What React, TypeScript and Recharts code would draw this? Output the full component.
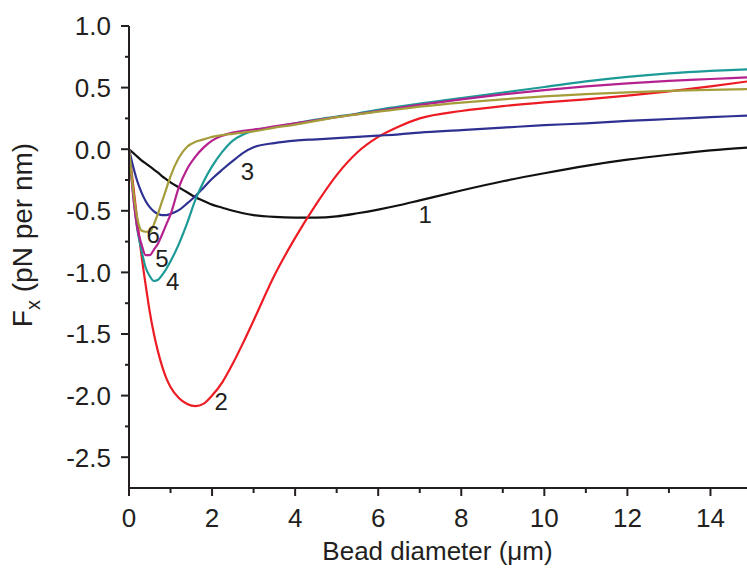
import React from "react";
import { LineChart, Line, XAxis, YAxis, ReferenceDot } from "recharts";

// bead diameter (µm)
const xs = [0, 0.1, 0.2, 0.3, 0.4, 0.5, 0.6, 0.7, 0.8, 0.9, 1.0, 1.2, 1.4, 1.6, 1.8, 2.0, 2.25, 2.5, 2.75, 3, 3.5, 4, 4.5, 5, 5.5, 6, 6.5, 7, 8, 9, 10, 11, 12, 13, 14, 15];

// F_x (pN per nm) for curves 1..6
const curve1 = [0, -0.03, -0.06, -0.09, -0.115, -0.14, -0.165, -0.19, -0.22, -0.245, -0.27, -0.31, -0.35, -0.39, -0.42, -0.45, -0.475, -0.5, -0.52, -0.535, -0.55, -0.555, -0.555, -0.545, -0.52, -0.49, -0.455, -0.415, -0.335, -0.26, -0.195, -0.135, -0.085, -0.045, -0.01, 0.015];
const curve2 = [0, -0.29, -0.58, -0.86, -1.1, -1.32, -1.5, -1.645, -1.765, -1.86, -1.93, -2.02, -2.068, -2.085, -2.065, -2.0, -1.89, -1.74, -1.57, -1.39, -1.025, -0.72, -0.45, -0.21, -0.025, 0.1, 0.185, 0.25, 0.31, 0.35, 0.38, 0.405, 0.435, 0.47, 0.51, 0.555];
const curve3 = [0, -0.14, -0.26, -0.35, -0.42, -0.47, -0.505, -0.525, -0.535, -0.535, -0.525, -0.495, -0.44, -0.38, -0.31, -0.24, -0.165, -0.095, -0.03, 0.015, 0.05, 0.07, 0.08, 0.09, 0.1, 0.11, 0.12, 0.135, 0.155, 0.175, 0.195, 0.21, 0.23, 0.245, 0.26, 0.275];
const curve4 = [0, -0.36, -0.65, -0.82, -0.96, -1.03, -1.07, -1.06, -1.02, -0.97, -0.91, -0.77, -0.6, -0.41, -0.26, -0.14, -0.02, 0.07, 0.12, 0.15, 0.18, 0.21, 0.24, 0.265, 0.29, 0.32, 0.345, 0.37, 0.415, 0.46, 0.505, 0.55, 0.587, 0.615, 0.635, 0.65];
const curve5 = [0, -0.38, -0.64, -0.77, -0.86, -0.86, -0.815, -0.765, -0.69, -0.61, -0.53, -0.31, -0.16, -0.06, 0.015, 0.07, 0.11, 0.135, 0.15, 0.16, 0.185, 0.21, 0.235, 0.26, 0.285, 0.31, 0.335, 0.36, 0.405, 0.445, 0.48, 0.51, 0.535, 0.555, 0.57, 0.585];
const curve6 = [0, -0.33, -0.56, -0.66, -0.67, -0.67, -0.61, -0.52, -0.42, -0.32, -0.22, -0.07, 0.02, 0.06, 0.08, 0.1, 0.115, 0.125, 0.135, 0.145, 0.175, 0.2, 0.23, 0.26, 0.283, 0.305, 0.325, 0.345, 0.378, 0.405, 0.428, 0.447, 0.462, 0.473, 0.481, 0.488];

const xTicks = [0, 1, 2, 3, 4, 5, 6, 7, 8, 9, 10, 11, 12, 13, 14, 15];
const yTicks = [-2.5, -2.25, -2, -1.75, -1.5, -1.25, -1, -0.75, -0.5, -0.25, 0, 0.25, 0.5, 0.75, 1];

// curve numbers and where they sit
const labelNames = ["1", "2", "3", "4", "5", "6"];
const labelX = [7.13, 2.22, 2.85, 1.05, 0.79, 0.58];
const labelY = [-0.53, -2.05, -0.18, -1.07, -0.885, -0.69];

const colors = ["#111111", "#ed1c24", "#2e3192", "#1c9a96", "#b5218e", "#a59c3a"];
const ink = "#231f20";
const font = "'Liberation Sans', Arial, sans-serif";
const fs = 26;

const data = xs.map((x, i) => ({
  x,
  c1: curve1[i],
  c2: curve2[i],
  c3: curve3[i],
  c4: curve4[i],
  c5: curve5[i],
  c6: curve6[i],
}));

const YTick = (props: any) => {
  const { x, y, payload } = props;
  const v = payload.value;
  const major = Math.abs(v * 2 - Math.round(v * 2)) < 1e-6;
  return (
    <g>
      <line x1={x} x2={x - (major ? 8 : 4)} y1={y} y2={y} stroke={ink} strokeWidth={2} />
      {major && (
        <text x={x - 18} y={y} dy={9.3} textAnchor="end" fontSize={fs} fill={ink} fontFamily={font}>
          {v.toFixed(1)}
        </text>
      )}
    </g>
  );
};

const XTick = (props: any) => {
  const { x, y, payload } = props;
  const v = payload.value;
  const major = v % 2 === 0;
  return (
    <g>
      <line x1={x} x2={x} y1={y} y2={y + (major ? 8 : 5)} stroke={ink} strokeWidth={2} />
      {major && (
        <text x={x} y={y + 39} textAnchor="middle" fontSize={fs} fill={ink} fontFamily={font}>
          {v}
        </text>
      )}
    </g>
  );
};

const YLabel = (props: any) => {
  const { viewBox } = props;
  const cx = viewBox.x + 32;
  const cy = viewBox.y + viewBox.height / 2 - 22;
  return (
    <text
      x={cx}
      y={cy}
      transform={`rotate(-90 ${cx} ${cy})`}
      textAnchor="middle"
      fontSize={28}
      fill={ink}
      fontFamily={font}
    >
      F
      <tspan dy={8} fontSize={20}>x</tspan>
      <tspan dy={-8}> (pN per nm)</tspan>
    </text>
  );
};

const XLabel = (props: any) => {
  const { viewBox } = props;
  return (
    <text
      x={viewBox.x + viewBox.width / 2 - 3}
      y={560}
      textAnchor="middle"
      fontSize={fs}
      fill={ink}
      fontFamily={font}
    >
      Bead diameter (μm)
    </text>
  );
};

const CurveNumber = (text: string) => (props: any) => (
  <text
    x={props.cx}
    y={props.cy}
    dy={8.6}
    textAnchor="middle"
    fontSize={24}
    fill={ink}
    fontFamily={font}
  >
    {text}
  </text>
);

export default function App() {
  const keys = ["c1", "c2", "c3", "c4", "c5", "c6"];
  return (
    <div
      style={{
        position: "absolute",
        left: 0,
        top: 0,
        width: 747,
        height: 572,
        overflow: "hidden",
        background: "#fff",
      }}
    >
      <LineChart
        width={760}
        height={572}
        data={data}
        margin={{ top: 26, right: 8, left: 0, bottom: 0 }}
      >
        <XAxis
          dataKey="x"
          type="number"
          domain={[0, 15]}
          ticks={xTicks}
          interval={0}
          height={84}
          tickSize={0}
          tickMargin={0}
          tickLine={false}
          axisLine={{ stroke: ink, strokeWidth: 2 }}
          tick={<XTick />}
          label={<XLabel />}
        />
        <YAxis
          type="number"
          domain={[-2.75, 1]}
          ticks={yTicks}
          interval={0}
          width={129}
          tickSize={0}
          tickMargin={0}
          tickLine={false}
          allowDataOverflow
          axisLine={{ stroke: ink, strokeWidth: 2 }}
          tick={<YTick />}
          label={<YLabel />}
        />
        {keys.map((k, i) => (
          <Line
            key={k}
            dataKey={k}
            type="monotone"
            stroke={colors[i]}
            strokeWidth={2.2}
            dot={false}
            activeDot={false}
            isAnimationActive={false}
          />
        ))}
        {labelNames.map((name, i) => (
          <ReferenceDot
            key={`lbl-${name}`}
            x={labelX[i]}
            y={labelY[i]}
            r={0}
            ifOverflow="visible"
            shape={CurveNumber(name)}
          />
        ))}
      </LineChart>
    </div>
  );
}
